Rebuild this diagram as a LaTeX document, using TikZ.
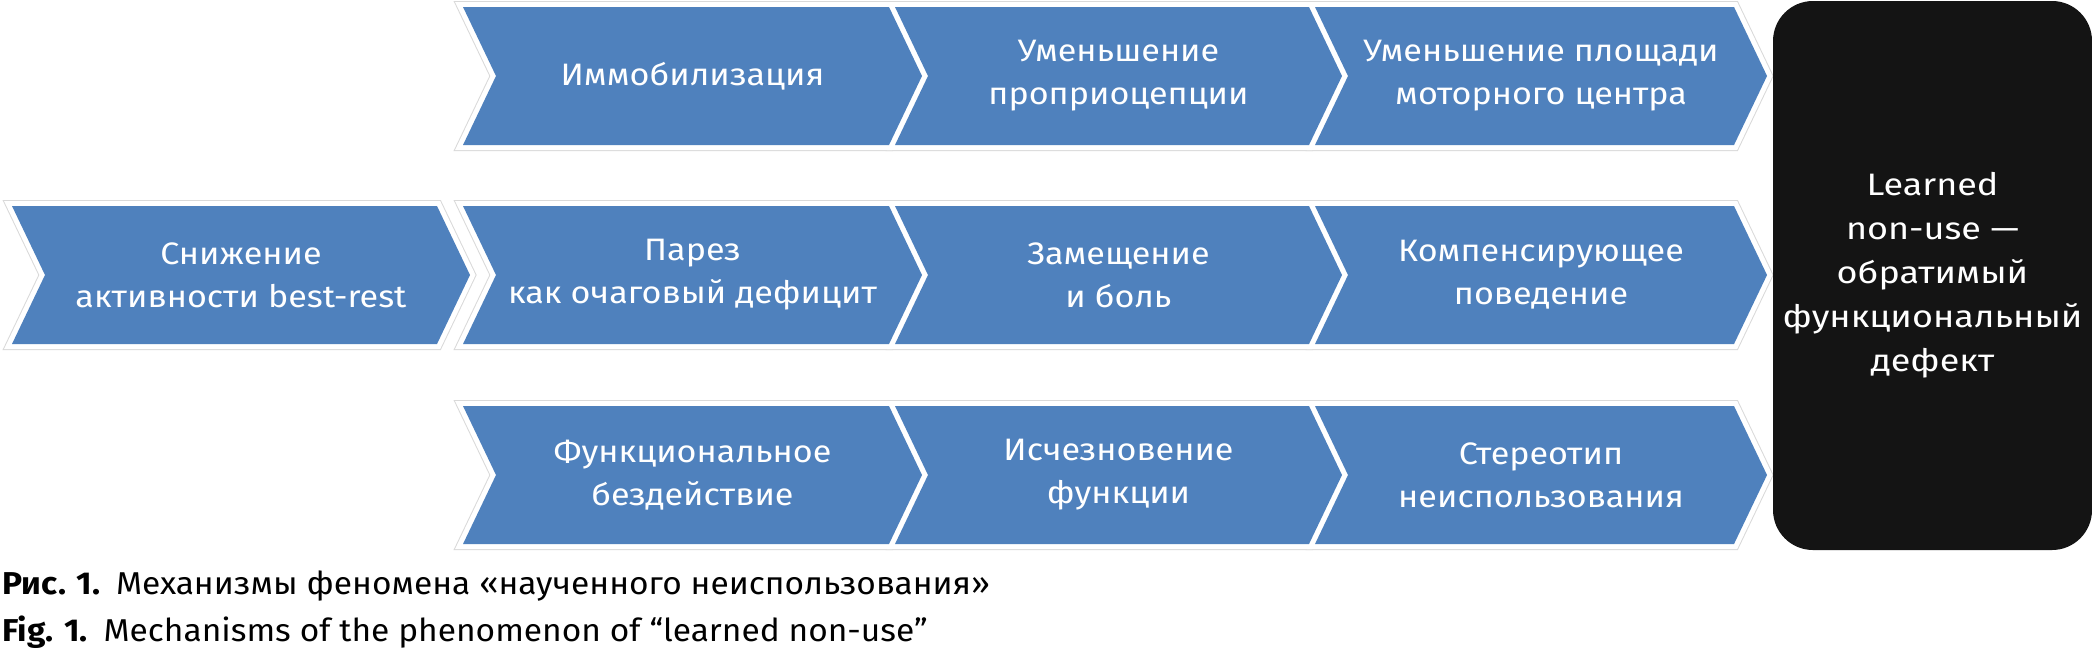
\documentclass[tikz,border=0pt]{standalone}
\usepackage{fontspec}
\setmainfont{Fira Sans}
\newfontfamily\chevfont{Fira Sans}[FakeStretch=1.1]
\newfontfamily\boxfont{Fira Sans}[FakeStretch=1.16]
\newfontfamily\capfont{Fira Sans}[FakeStretch=1.06]
\definecolor{chevblue}{HTML}{4F81BD}
\definecolor{boxblack}{HTML}{141414}

\begin{document}
\begin{tikzpicture}[x=0.5pt, y=-0.5pt,
  rim/.style={draw=black!15, line width=6pt},
  band/.style={draw=white, line width=5pt},
  body/.style={fill=chevblue},
  chevtext/.style={text=white, align=center, inner sep=0pt,
    font=\chevfont\fontsize{15.5}{21.5}\selectfont},
  captext/.style={anchor=base west, inner sep=0pt,
    font=\capfont\fontsize{15.8}{18}\selectfont}]

\useasboundingbox (0,0) rectangle (2092,660);

% chevrons, left/right/top
\foreach \lay in {rim,band,body}
  \foreach \l/\r/\t in {463/889/7, 895/1309/7, 1315/1734/7,
      12/437/206, 463/889/206, 895/1309/206, 1315/1734/206,
      463/889/406, 895/1309/406, 1315/1734/406}
    \path[\lay] (\l,\t) -- (\r,\t) -- (\r+33,\t+69) -- (\r,\t+138)
      -- (\l,\t+138) -- (\l+33,\t+69) -- cycle;

\node[chevtext] (immob) at (692.5,76) {Иммобилизация};
\node[chevtext] (propr) at (1118.5,76) {Уменьшение\\проприоцепции};
\node[chevtext] (motor) at (1541,76) {Уменьшение площади\\моторного центра};

\node[chevtext] (rest) at (241,275) {Снижение\\активности best-rest};
\node[chevtext] (parez) at (692.5,275) {Парез\\как очаговый дефицит};
\node[chevtext] (pain) at (1118.5,275) {Замещение\\и боль};
\node[chevtext] (comp) at (1541,275) {Компенсирующее\\поведение};

\node[chevtext] (idle) at (692.5,475) {Функциональное\\бездействие};
\node[chevtext] (loss) at (1118.5,475) {Исчезновение\\функции};
\node[chevtext] (stereo) at (1541,475) {Стереотип\\неиспользования};

\node[fill=boxblack, rounded corners=20pt, minimum width=159.5pt,
  minimum height=274.5pt, text=white, align=center,
  font=\boxfont\fontsize{15.5}{22}\selectfont] (nonuse) at (1932.5,275.5)
  {Learned\\non-use —\\обратимый\\функциональный\\дефект};

\node[captext] (capru) at (2,594)
  {\textbf{Рис. 1.}\enspace Механизмы феномена «наученного неиспользования»};
\node[captext] (capen) at (2,641)
  {\textbf{Fig. 1.}\enspace Mechanisms of the phenomenon of “learned non-use”};
\end{tikzpicture}
\end{document}
